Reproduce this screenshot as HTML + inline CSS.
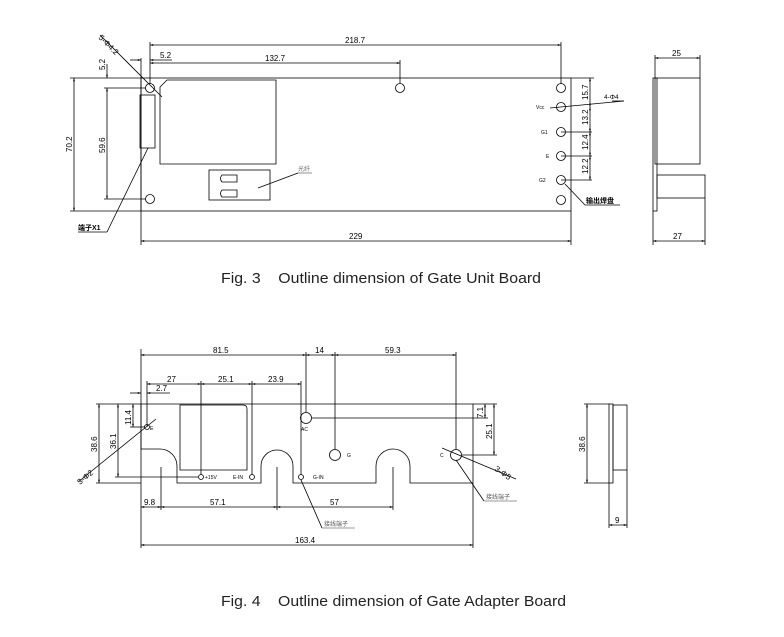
<!DOCTYPE html>
<html><head><meta charset="utf-8"><style>
html,body{margin:0;padding:0;background:#fff}
svg{display:block}
text{font-family:"Liberation Sans","Noto Sans CJK SC",sans-serif;fill:#000}
.d{font-size:8px}
.s{font-size:5px}
.cap{font-size:15px;fill:#222;white-space:pre}
</style></head><body>
<svg width="784" height="637" viewBox="0 0 784 637" xmlns="http://www.w3.org/2000/svg">
<defs>
<marker id="a" viewBox="0 0 10 10" refX="10" refY="5" markerWidth="6" markerHeight="4" orient="auto-start-reverse"><path d="M0,2 L10,5 L0,8z" fill="#000"/></marker>
</defs>
<g stroke="#000" stroke-width="0.8" fill="none">
<!-- FIG 3 -->
<rect x="141" y="78" width="430" height="133"/>
<line x1="141" y1="58" x2="141" y2="245"/>
<line x1="571" y1="211" x2="571" y2="245"/>
<line x1="141" y1="241" x2="571" y2="241" marker-start="url(#a)" marker-end="url(#a)"/>
<line x1="150" y1="42" x2="150" y2="84"/>
<line x1="561" y1="42" x2="561" y2="84"/>
<line x1="150" y1="45" x2="561" y2="45" marker-start="url(#a)" marker-end="url(#a)"/>
<line x1="130" y1="60" x2="141" y2="60" marker-end="url(#a)"/>
<line x1="150" y1="60" x2="172" y2="60" marker-start="url(#a)"/>
<line x1="150" y1="63" x2="400" y2="63" marker-start="url(#a)" marker-end="url(#a)"/>
<line x1="400" y1="60" x2="400" y2="83"/>
<circle cx="150" cy="88" r="4.5"/><circle cx="400" cy="88" r="4.5"/><circle cx="150" cy="199" r="4.5"/>
<circle cx="561" cy="88" r="4.5"/><circle cx="561" cy="107" r="4.5"/><circle cx="561" cy="132" r="4.5"/>
<circle cx="561" cy="156" r="4.5"/><circle cx="561" cy="180" r="4.5"/><circle cx="561" cy="200" r="4.5"/>
<line x1="74" y1="78" x2="74" y2="211" marker-start="url(#a)" marker-end="url(#a)"/>
<line x1="70" y1="78" x2="141" y2="78"/><line x1="70" y1="211" x2="141" y2="211"/>
<line x1="107" y1="64" x2="107" y2="78" marker-end="url(#a)"/>
<line x1="107" y1="88" x2="107" y2="199" marker-start="url(#a)" marker-end="url(#a)"/>
<line x1="104" y1="88" x2="146" y2="88"/><line x1="104" y1="199" x2="146" y2="199"/>
<path d="M167,80 H276 V164 H160 V87 Z"/>
<rect x="140" y="95" width="15" height="53"/>
<rect x="209" y="170" width="61" height="30"/>
<path d="M222,175 H237 V182 H222 Q219,178.5 222,175Z"/>
<path d="M222,190 H237 V197 H222 Q219,193.5 222,190Z"/>
<line x1="258" y1="188" x2="298" y2="173"/><line x1="298" y1="173" x2="312" y2="173" stroke="#777"/>
<line x1="107" y1="232" x2="148" y2="148"/><line x1="78" y1="232" x2="107" y2="232"/>
<line x1="100" y1="35" x2="162" y2="97"/>
<!-- right dims -->
<line x1="571" y1="78" x2="594" y2="78"/>
<line x1="590" y1="78" x2="590" y2="107" marker-start="url(#a)" marker-end="url(#a)"/>
<line x1="590" y1="107" x2="590" y2="132" marker-start="url(#a)" marker-end="url(#a)"/>
<line x1="590" y1="132" x2="590" y2="156" marker-start="url(#a)" marker-end="url(#a)"/>
<line x1="590" y1="156" x2="590" y2="180" marker-start="url(#a)" marker-end="url(#a)"/>
<line x1="561" y1="132" x2="592" y2="132"/><line x1="561" y1="156" x2="592" y2="156"/><line x1="561" y1="180" x2="592" y2="180"/>
<line x1="550" y1="108" x2="624" y2="101"/><line x1="612" y1="101" x2="624" y2="101"/>
<line x1="565" y1="184" x2="585" y2="205"/><line x1="585" y1="205" x2="620" y2="205"/>
<!-- side view -->
<rect x="655" y="78" width="45" height="86"/>
<rect x="653" y="78" width="4" height="133"/>
<rect x="657" y="175" width="48" height="23"/>
<line x1="655" y1="55" x2="655" y2="78"/><line x1="700" y1="55" x2="700" y2="78"/>
<line x1="655" y1="58" x2="700" y2="58" marker-start="url(#a)" marker-end="url(#a)"/>
<line x1="653" y1="211" x2="653" y2="245"/><line x1="705" y1="198" x2="705" y2="245"/>
<line x1="653" y1="241" x2="705" y2="241" marker-start="url(#a)" marker-end="url(#a)"/>

<!-- FIG 4 -->
<path d="M141,404 H473 V483 H410 V466 A17,17 0 0 0 376,466 V483 H293 V466 A16,16 0 0 0 261,466 V483 H177 V466 A17,17 0 0 0 160,449 H141 Z"/>
<line x1="141" y1="349" x2="141" y2="548"/>
<line x1="473" y1="483" x2="473" y2="548"/>
<line x1="141" y1="545" x2="473" y2="545" marker-start="url(#a)" marker-end="url(#a)"/>
<path d="M180,405 H243 Q247,405 247,409 V470 H180 Z"/>
<circle cx="147" cy="427" r="2.5"/><circle cx="201" cy="477" r="2.5"/><circle cx="252" cy="477" r="2.5"/><circle cx="301" cy="477" r="2.5"/>
<circle cx="306" cy="418" r="5.5"/><circle cx="335" cy="455" r="5.5"/><circle cx="456" cy="455" r="5.5"/>
<line x1="141" y1="355" x2="306" y2="355" marker-start="url(#a)" marker-end="url(#a)"/>
<line x1="306" y1="355" x2="335" y2="355" marker-start="url(#a)" marker-end="url(#a)"/>
<line x1="335" y1="355" x2="456" y2="355" marker-start="url(#a)" marker-end="url(#a)"/>
<line x1="306" y1="352" x2="306" y2="412"/><line x1="335" y1="352" x2="335" y2="449"/><line x1="456" y1="352" x2="456" y2="449"/>
<line x1="147" y1="384" x2="201" y2="384" marker-start="url(#a)" marker-end="url(#a)"/>
<line x1="201" y1="384" x2="252" y2="384" marker-start="url(#a)" marker-end="url(#a)"/>
<line x1="252" y1="384" x2="301" y2="384" marker-start="url(#a)" marker-end="url(#a)"/>
<line x1="147" y1="381" x2="147" y2="427"/><line x1="201" y1="381" x2="201" y2="475"/><line x1="252" y1="381" x2="252" y2="475"/><line x1="301" y1="381" x2="301" y2="475"/>
<line x1="130" y1="393" x2="141" y2="393" marker-end="url(#a)"/><line x1="147" y1="393" x2="170" y2="393" marker-start="url(#a)"/>
<line x1="96" y1="404" x2="141" y2="404"/>
<line x1="99" y1="404" x2="99" y2="483" marker-start="url(#a)" marker-end="url(#a)"/>
<line x1="96" y1="483" x2="141" y2="483"/>
<line x1="118" y1="404" x2="118" y2="477" marker-start="url(#a)" marker-end="url(#a)"/>
<line x1="115" y1="477" x2="198" y2="477"/>
<line x1="133" y1="404" x2="133" y2="427" marker-start="url(#a)" marker-end="url(#a)"/>
<line x1="130" y1="427" x2="145" y2="427"/>
<line x1="78" y1="482" x2="156" y2="419"/>
<line x1="141" y1="507" x2="161" y2="507" marker-start="url(#a)" marker-end="url(#a)"/>
<line x1="161" y1="507" x2="277" y2="507" marker-start="url(#a)" marker-end="url(#a)"/>
<line x1="277" y1="507" x2="393" y2="507" marker-start="url(#a)" marker-end="url(#a)"/>
<line x1="161" y1="467" x2="161" y2="510"/><line x1="277" y1="467" x2="277" y2="510"/><line x1="393" y1="467" x2="393" y2="510"/>
<line x1="312" y1="418" x2="488" y2="418"/>
<line x1="462" y1="455" x2="497" y2="455"/>
<line x1="473" y1="404" x2="497" y2="404"/>
<line x1="485" y1="404" x2="485" y2="418" marker-start="url(#a)" marker-end="url(#a)"/>
<line x1="494" y1="404" x2="494" y2="455" marker-start="url(#a)" marker-end="url(#a)"/>
<line x1="442" y1="448" x2="516" y2="479"/>
<line x1="301" y1="480" x2="322" y2="528"/><line x1="322" y1="528" x2="355" y2="528" stroke="#777"/>
<line x1="456" y1="460" x2="484" y2="501"/><line x1="484" y1="501" x2="517" y2="501" stroke="#777"/>
<!-- side view fig4 -->
<rect x="609" y="404" width="4" height="79"/>
<rect x="613" y="405" width="14" height="65"/>
<line x1="584" y1="404" x2="609" y2="404"/><line x1="584" y1="483" x2="609" y2="483"/>
<line x1="587" y1="404" x2="587" y2="483" marker-start="url(#a)" marker-end="url(#a)"/>
<line x1="609" y1="483" x2="609" y2="528"/><line x1="627" y1="470" x2="627" y2="528"/>
<line x1="609" y1="525" x2="627" y2="525" marker-start="url(#a)" marker-end="url(#a)"/>
</g>

<!-- FIG 3 text -->
<text class="d" x="345" y="43">218.7</text>
<text class="d" x="160" y="58">5.2</text>
<text class="d" x="265" y="61">132.7</text>
<text class="d" x="349" y="239">229</text>
<text class="d" transform="translate(72,152) rotate(-90)">70.2</text>
<text class="d" transform="translate(105,70) rotate(-90)">5.2</text>
<text class="d" transform="translate(105,153) rotate(-90)">59.6</text>
<text class="d" transform="translate(98,38) rotate(45)">5-Φ4.2</text>
<text style="font-size:7px;font-weight:bold" x="78" y="230">端子X1</text>
<text style="font-size:6px;fill:#666" x="298" y="171">光纤</text>
<text class="s" x="536" y="109">Vcc</text>
<text class="s" x="541" y="134">G1</text>
<text class="s" x="546" y="158">E</text>
<text class="s" x="539" y="182">G2</text>
<text class="d" transform="translate(588,100) rotate(-90)">15.7</text>
<text class="d" transform="translate(588,125) rotate(-90)">13.2</text>
<text class="d" transform="translate(588,150) rotate(-90)">12.4</text>
<text class="d" transform="translate(588,174) rotate(-90)">12.2</text>
<text style="font-size:6.5px" x="604" y="99">4-Φ4</text>
<text style="font-size:7px;font-weight:bold" x="586" y="203">输出焊盘</text>
<text class="d" x="672" y="56">25</text>
<text class="d" x="673" y="239">27</text>
<text class="cap" x="221" y="283" textLength="320" lengthAdjust="spacingAndGlyphs" xml:space="preserve">Fig. 3    Outline dimension of Gate Unit Board</text>

<!-- FIG 4 text -->
<text class="d" x="213" y="353">81.5</text>
<text class="d" x="315" y="353">14</text>
<text class="d" x="385" y="353">59.3</text>
<text class="d" x="167" y="382">27</text>
<text class="d" x="218" y="382">25.1</text>
<text class="d" x="268" y="382">23.9</text>
<text class="d" x="156" y="391">2.7</text>
<text class="d" transform="translate(97,452) rotate(-90)">38.6</text>
<text class="d" transform="translate(116,449) rotate(-90)">36.1</text>
<text class="d" transform="translate(131,425) rotate(-90)">11.4</text>
<text class="d" transform="translate(80,485) rotate(-40)">3-Φ2</text>
<text class="d" x="144" y="505">9.8</text>
<text class="d" x="210" y="505">57.1</text>
<text class="d" x="330" y="505">57</text>
<text class="d" x="295" y="543">163.4</text>
<text class="d" transform="translate(483,418) rotate(-90)">7.1</text>
<text class="d" transform="translate(492,439) rotate(-90)">25.1</text>
<text class="d" transform="translate(494,470) rotate(35)">3-Φ5</text>
<text class="s" x="150" y="430">E</text>
<text class="s" x="205" y="479">+15V</text>
<text class="s" x="233" y="479">E-IN</text>
<text class="s" x="313" y="479">G-IN</text>
<text class="s" x="301" y="431">AC</text>
<text class="s" x="347" y="457">G</text>
<text class="s" x="440" y="457">C</text>
<text style="font-size:6px;fill:#555" x="324" y="526">接线端子</text>
<text style="font-size:6px;fill:#555" x="486" y="499">接线端子</text>
<text class="d" transform="translate(585,452) rotate(-90)">38.6</text>
<text class="d" x="615" y="523">9</text>
<text class="cap" x="221" y="606" textLength="345" lengthAdjust="spacingAndGlyphs" xml:space="preserve">Fig. 4    Outline dimension of Gate Adapter Board</text>
</svg>
</body></html>
